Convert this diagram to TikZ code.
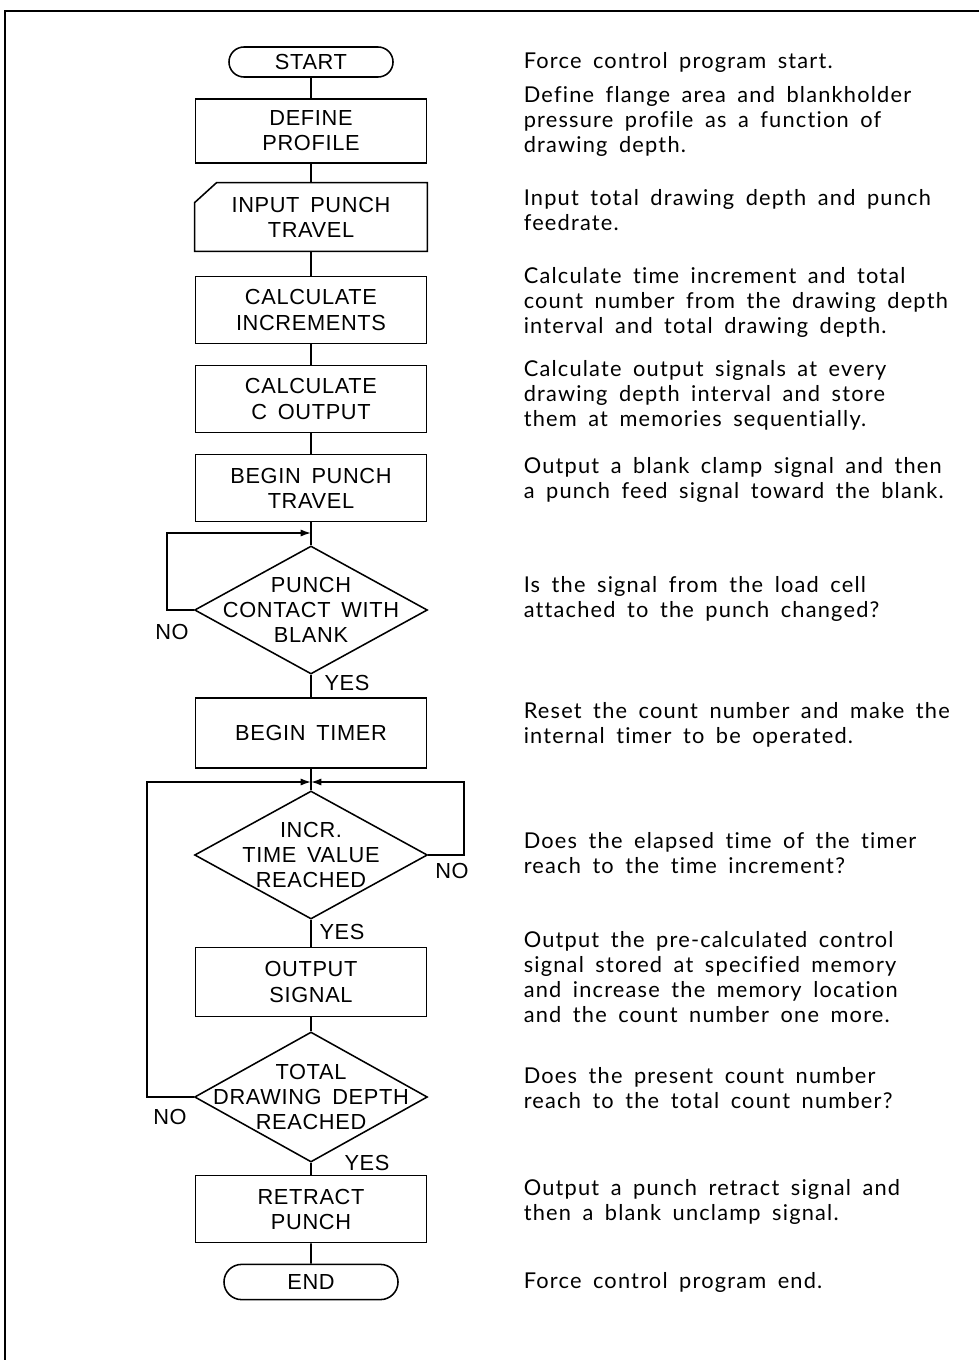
\documentclass[tikz,border=0pt]{standalone}
\usepackage{fontspec}
\setmainfont{Liberation Sans}[LetterSpace=3,WordSpace=1.6]
\newfontfamily\notefont{Lato}[Ligatures=NoCommon,LetterSpace=5.5,WordSpace=1.7]
\usetikzlibrary{arrows.meta,shapes.geometric,shapes.misc}

\begin{document}
\begin{tikzpicture}[x=0.025cm, y=-0.025cm, line width=1.1pt,
  every node/.style={font=\fontsize{15.5}{17.8}\selectfont},
  term/.style={draw, rounded rectangle, minimum width=4.1cm, minimum height=0.75cm, inner sep=0pt},
  proc/.style={draw, align=center, minimum width=5.78cm, minimum height=1.68cm, inner sep=0pt},
  dec/.style={draw, diamond, minimum width=5.82cm, minimum height=3.2cm, inner sep=0pt},
  dectext/.style={align=center, inner sep=0pt},
  note/.style={anchor=west, align=left, inner sep=0pt, font=\notefont\fontsize{15.5}{17.8}\selectfont},
  yn/.style={inner sep=0pt},
  arr/.style={-{Latex[length=2.6mm,width=1.8mm]}}]
  \useasboundingbox (0,0) rectangle (979,1360);
  \draw (979,11) -- (5,11) -- (5,1360);

  \node[term] (start) at (311,62) {START};
  \node[proc, minimum height=1.6cm] (define) at (311,131) {DEFINE\\PROFILE};
  \node[proc, draw=none] (input) at (311,217) {INPUT PUNCH\\TRAVEL};
  \draw (input.south west) -| (input.north east) -- ([xshift=0.55cm]input.north west)
    -- ([yshift=-0.5cm]input.north west) -- cycle;
  \node[proc] (incr) at (311,310) {CALCULATE\\INCREMENTS};
  \node[proc] (calcout) at (311,399) {CALCULATE\\C OUTPUT};
  \node[proc] (begin) at (311,488) {BEGIN PUNCH\\TRAVEL};
  \node[dec, label={[dectext]center:{PUNCH\\CONTACT WITH\\BLANK}}] (contact) at (311,610) {};
  \node[proc, minimum height=1.75cm] (timer) at (311,733) {BEGIN TIMER};
  \node[dec, label={[dectext]center:{INCR.\\TIME VALUE\\REACHED}}] (reached) at (311,855) {};
  \node[proc, minimum height=1.72cm] (output) at (311,982) {OUTPUT\\SIGNAL};
  \node[dec, minimum height=3.25cm, label={[dectext]center:{TOTAL\\DRAWING DEPTH\\REACHED}}] (total) at (311,1097) {};
  \node[proc] (retract) at (311,1209) {RETRACT\\PUNCH};
  \node[term, minimum width=4.35cm, minimum height=0.88cm] (end) at (311,1282) {END};

  \coordinate (j1) at (311,533);
  \coordinate (j2) at (311,782);
  \draw (start) -- (define);
  \draw (define) -- (input);
  \draw (input) -- (incr);
  \draw (incr) -- (calcout);
  \draw (calcout) -- (begin);
  \draw (begin) -- (contact);
  \draw (contact) -- (timer);
  \draw (timer) -- (reached);
  \draw (reached) -- (output);
  \draw (output) -- (total);
  \draw (total) -- (retract);
  \draw (retract) -- (end);
  \draw[arr] (contact.west) -- ++(-27,0) |- (j1);
  \draw[arr] (reached.east) -- ++(36,0) |- (j2);
  \draw[arr] (total.west) -- ++(-47,0) |- (j2);

  \node[yn] (no1) at (172,632) {NO};
  \node[yn] (yes1) at (347,683) {YES};
  \node[yn] (no2) at (452,871) {NO};
  \node[yn] (yes2) at (342,932) {YES};
  \node[yn] (no3) at (170,1117) {NO};
  \node[yn] (yes3) at (367,1163) {YES};

  \node[note] (nstart) at (523,62) {Force control program start.};
  \node[note] (ndefine) at (523,121) {Define flange area and blankholder\\pressure profile as a function of\\drawing depth.};
  \node[note] (ninput) at (523,210) {Input total drawing depth and punch\\feedrate.};
  \node[note] (nincr) at (523,302) {Calculate time increment and total\\count number from the drawing depth\\interval and total drawing depth.};
  \node[note] (ncalcout) at (523,395) {Calculate output signals at every\\drawing depth interval and store\\them at memories sequentially.};
  \node[note] (nbegin) at (523,480) {Output a blank clamp signal and then\\a punch feed signal toward the blank.};
  \node[note] (ncontact) at (523,599) {Is the signal from the load cell\\attached to the punch changed?};
  \node[note] (ntimer) at (523,725) {Reset the count number and make the\\internal timer to be operated.};
  \node[note] (nreached) at (523,853) {Does the elapsed time of the timer\\reach to the time increment?};
  \node[note] (noutput) at (523,977) {Output the pre-calculated control\\signal stored at specified memory\\and increase the memory location\\and the count number one more.};
  \node[note] (ntotal) at (523,1088) {Does the present count number\\reach to the total count number?};
  \node[note] (nretract) at (523,1202) {Output a punch retract signal and\\then a blank unclamp signal.};
  \node[note] (nend) at (523,1282) {Force control program end.};
\end{tikzpicture}
\end{document}
